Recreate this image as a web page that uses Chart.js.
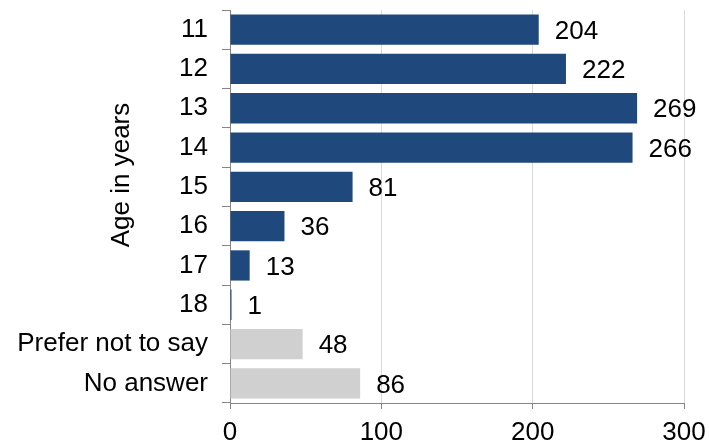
<!DOCTYPE html>
<html>
<head>
<meta charset="utf-8">
<script src="https://cdn.jsdelivr.net/npm/chart.js@4"></script>
<style>
  html, body { margin: 0; padding: 0; background: #fff; }
  #wrap { width: 709px; height: 447px; position: relative; }
</style>
</head>
<body>
<div id="wrap"><canvas id="ageChart"></canvas></div>
<script>
'use strict';

// ── DATA ────────────────────────────────────────────────────────────────────
const AGE_LABELS = ['11', '12', '13', '14', '15', '16', '17', '18', 'Prefer not to say', 'No answer'];
const AGE_COUNTS = [204, 222, 269, 266, 81, 36, 13, 1, 48, 86];
const AGE_GROUPS = ['age', 'age', 'age', 'age', 'age', 'age', 'age', 'age', 'other', 'other'];
const X_TICKS = [0, 100, 200, 300];

const COLORS = { age: '#1f497d', other: '#d0d0d0' };
const FONT = 'Liberation Sans, Arial, sans-serif';
const FONT_SIZE = 26;

// ── PLUGINS ─────────────────────────────────────────────────────────────────
// value labels to the right of each bar
const valueLabels = {
  id: 'valueLabels',
  afterDatasetsDraw(chart) {
    const { ctx } = chart;
    const meta = chart.getDatasetMeta(0);
    ctx.save();
    ctx.font = FONT_SIZE + 'px ' + FONT;
    ctx.fillStyle = '#000';
    ctx.textAlign = 'left';
    ctx.textBaseline = 'middle';
    meta.data.forEach((bar, i) => {
      ctx.fillText(String(AGE_COUNTS[i]), bar.x + 16, bar.y + 2);
    });
    ctx.restore();
  }
};

// rotated axis title, sitting between the tick labels
const axisTitle = {
  id: 'axisTitle',
  afterDraw(chart) {
    const { ctx, chartArea } = chart;
    ctx.save();
    ctx.font = FONT_SIZE + 'px ' + FONT;
    ctx.fillStyle = '#000';
    ctx.textAlign = 'center';
    ctx.textBaseline = 'middle';
    ctx.translate(chartArea.left - 108, chartArea.top + 165);
    ctx.rotate(-Math.PI / 2);
    ctx.fillText('Age in years', 0, 0);
    ctx.restore();
  }
};

// ── CHART ───────────────────────────────────────────────────────────────────
new Chart(document.getElementById('ageChart'), {
  type: 'bar',
  data: {
    labels: AGE_LABELS,
    datasets: [{
      data: AGE_COUNTS,
      backgroundColor: AGE_GROUPS.map(g => COLORS[g]),
      barPercentage: 0.77,
      categoryPercentage: 1
    }]
  },
  options: {
    indexAxis: 'y',
    responsive: true,
    maintainAspectRatio: false,
    animation: false,
    layout: { padding: { top: 10, right: 25, left: 0, bottom: 0 } },
    plugins: { legend: { display: false }, tooltip: { enabled: false } },
    scales: {
      x: {
        min: 0,
        max: 300,
        afterBuildTicks: scale => { scale.ticks = X_TICKS.map(v => ({ value: v })); },
        afterFit: scale => { scale.height = 44; scale.paddingLeft = 0; scale.paddingRight = 0; },
        border: { color: '#868686', width: 1 },
        grid: { color: '#d9d9d9', tickColor: '#868686', tickLength: 6, lineWidth: 1 },
        ticks: { color: '#000', font: { family: FONT, size: FONT_SIZE }, padding: 8 }
      },
      y: {
        afterFit: scale => { scale.width = 230; scale.paddingTop = 0; scale.paddingBottom = 0; },
        border: { color: '#868686', width: 1 },
        grid: { offset: true, drawOnChartArea: false, tickColor: '#868686', tickLength: 8 },
        ticks: { color: '#000', font: { family: FONT, size: FONT_SIZE }, padding: 14 }
      }
    }
  },
  plugins: [valueLabels, axisTitle]
});
</script>
</body>
</html>
